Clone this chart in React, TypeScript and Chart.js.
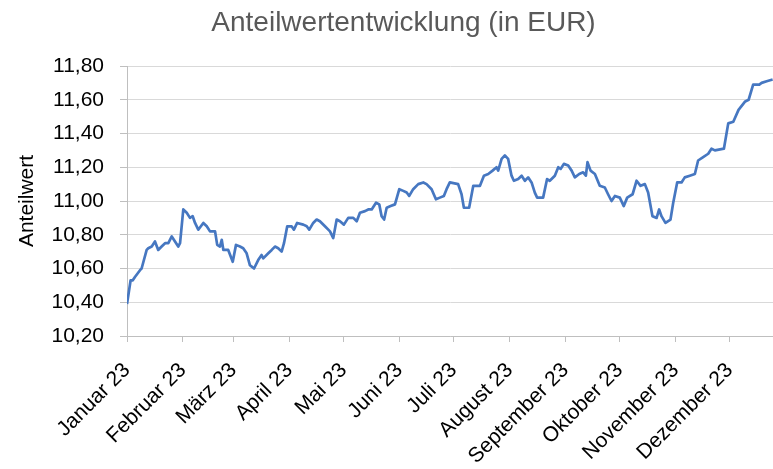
import React, { useEffect, useRef } from "react";
import { Chart, registerables } from "chart.js";

Chart.register(...registerables);

const chartTitle = "Anteilwertentwicklung (in EUR)";
const yAxisTitle = "Anteilwert";

const monthLabels = [
  "Januar 23", "Februar 23", "März 23", "April 23", "Mai 23", "Juni 23",
  "Juli 23", "August 23", "September 23", "Oktober 23", "November 23", "Dezember 23",
];
// day-of-year of each month start (2023)
const monthStarts = [0, 31, 59, 90, 120, 151, 181, 212, 243, 273, 304, 334];

const yTicks = [10.2, 10.4, 10.6, 10.8, 11.0, 11.2, 11.4, 11.6, 11.8];

// day-of-year of each observation
const days = [
  0, 2, 3.2, 4.4, 7.2, 8.1, 10.9, 11.8, 13.7, 15.5,
  17.3, 19.2, 21.1, 22.9, 24.8, 26.6, 28.4, 29.4, 31.2, 33.1,
  34.9, 36.4, 37.7, 39.5, 42.3, 44.2, 46, 48.8, 50, 51.5,
  52.5, 53.4, 56.1, 58.6, 60.4, 62.6, 64.4, 66.3, 68.1, 70.4,
  72.7, 74.6, 75.5, 78.3, 80.2, 82, 83.8, 85.7, 87, 88.8,
  91.2, 92.5, 94.3, 97.7, 99.6, 101, 103.2, 105.1, 106.9, 109.7,
  112.5, 114.3, 116.2, 118, 120.2, 122.6, 125.4, 127.3, 129.1, 131.9,
  133.7, 135.6, 138, 139.8, 141.1, 142.5, 143.9, 146.1, 148.5, 150.9,
  153.1, 155, 156.4, 158.6, 161.4, 164.2, 166, 168.8, 171.2, 173.4,
  175.6, 177.1, 178.9, 183.5, 185.4, 186.7, 189.6, 191.9, 193.7, 195.6,
  197.8, 200.2, 202.6, 204.8, 205.7, 207.6, 209.4, 211.2, 213.1, 214.4,
  216.8, 218.7, 220.5, 222.3, 224.2, 226, 227.3, 230.6, 232.8, 234.3,
  237.1, 239, 240.3, 242.1, 244.5, 246.4, 248.2, 250.6, 252.8, 254.3,
  255.2, 256.9, 259.3, 262, 264.8, 266.6, 268.5, 270.4, 273.1, 275.3,
  277.2, 280.2, 282.4, 284.6, 287, 288.8, 291.2, 293.5, 294.9, 296.2,
  298.4, 301.2, 302.7, 304.9, 307.3, 309.1, 311.9, 314.7, 316.5, 319.3,
  322.1, 323.9, 325.8, 330.8, 333.2, 336, 338.9, 342.6, 344.5, 347,
  350.4, 351.7, 354.5, 357.8,
];

// unit value in EUR
const values = [
  10.39, 10.53, 10.53, 10.55, 10.59, 10.6, 10.71, 10.72, 10.73, 10.76,
  10.71, 10.73, 10.75, 10.75, 10.79, 10.76, 10.73, 10.75, 10.95, 10.93,
  10.9, 10.91, 10.87, 10.83, 10.87, 10.85, 10.82, 10.82, 10.74, 10.73,
  10.77, 10.71, 10.71, 10.64, 10.74, 10.73, 10.72, 10.69, 10.62, 10.6,
  10.65, 10.68, 10.66, 10.69, 10.71, 10.73, 10.72, 10.7, 10.75, 10.85,
  10.85, 10.83, 10.87, 10.86, 10.85, 10.83, 10.87, 10.89, 10.88, 10.85,
  10.82, 10.78, 10.89, 10.88, 10.86, 10.9, 10.9, 10.88, 10.93, 10.94,
  10.95, 10.95, 10.99, 10.98, 10.91, 10.89, 10.96, 10.97, 10.98, 11.07,
  11.06, 11.05, 11.03, 11.07, 11.1, 11.11, 11.1, 11.07, 11.01, 11.02,
  11.03, 11.07, 11.11, 11.1, 11.04, 10.96, 10.96, 11.09, 11.09, 11.09,
  11.15, 11.16, 11.18, 11.2, 11.18, 11.25, 11.27, 11.25, 11.15, 11.12,
  11.13, 11.15, 11.12, 11.14, 11.11, 11.05, 11.02, 11.02, 11.13, 11.12,
  11.15, 11.2, 11.19, 11.22, 11.21, 11.18, 11.14, 11.16, 11.17, 11.15,
  11.23, 11.18, 11.16, 11.09, 11.08, 11.04, 11.0, 11.03, 11.02, 10.97,
  11.02, 11.04, 11.12, 11.09, 11.1, 11.05, 10.91, 10.9, 10.95, 10.91,
  10.87, 10.89, 10.99, 11.11, 11.11, 11.14, 11.15, 11.16, 11.24, 11.26,
  11.28, 11.31, 11.3, 11.31, 11.46, 11.47, 11.54, 11.59, 11.6, 11.69,
  11.69, 11.7, 11.71, 11.72,
];

const FONT = "'Liberation Sans', Arial, Helvetica, sans-serif";

const titlePlugin = {
  id: "customTitle",
  afterDraw(chart: any) {
    const ctx = chart.ctx;
    ctx.save();
    ctx.font = `28px ${FONT}`;
    ctx.fillStyle = "#595959";
    ctx.textAlign = "center";
    ctx.textBaseline = "middle";
    ctx.fillText(chartTitle, 403.5, 23);
    ctx.restore();
  },
};

export default function App() {
  const ref = useRef<HTMLCanvasElement | null>(null);

  useEffect(() => {
    if (!ref.current) return;
    const chart = new Chart(ref.current, {
      type: "line",
      data: {
        datasets: [
          {
            data: days.map((d, i) => ({ x: d, y: values[i] })),
            borderColor: "#4677c1",
            borderWidth: 2.7,
            pointRadius: 0,
            tension: 0,
            fill: false,
            borderJoinStyle: "round",
          },
        ],
      },
      plugins: [titlePlugin],
      options: {
        responsive: false,
        animation: false,
        layout: { padding: { top: 66, left: 0, right: 0, bottom: 0 } },
        plugins: {
          legend: { display: false },
          title: { display: false },
          tooltip: { enabled: false },
        },
        scales: {
          x: {
            type: "linear",
            min: 0,
            max: 358,
            afterBuildTicks: (scale: any) => {
              scale.ticks = monthStarts.map((v) => ({ value: v }));
            },
            afterFit: (scale: any) => {
              scale.height = 133;
            },
            ticks: {
              autoSkip: false,
              minRotation: 45,
              maxRotation: 45,
              padding: 16,
              color: "#000",
              font: { family: FONT, size: 21 },
              callback: (_v: any, i: number) => monthLabels[i],
            },
            grid: {
              drawOnChartArea: false,
              drawTicks: true,
              tickLength: 6,
              color: "#bfbfbf",
            },
            border: { display: true, color: "#bfbfbf" },
          },
          y: {
            min: 10.2,
            max: 11.8,
            afterBuildTicks: (scale: any) => {
              scale.ticks = yTicks.map((v) => ({ value: v }));
            },
            afterFit: (scale: any) => {
              scale.width = 127;
            },
            ticks: {
              padding: 16,
              color: "#000",
              font: { family: FONT, size: 21 },
              callback: (v: any) => Number(v).toFixed(2).replace(".", ","),
            },
            grid: {
              color: "#d9d9d9",
              tickLength: 7,
              tickColor: "#bfbfbf",
            },
            border: { display: true, color: "#bfbfbf" },
            title: {
              display: true,
              text: yAxisTitle,
              color: "#000",
              font: { family: FONT, size: 21 },
              padding: { top: 15, bottom: 0 },
            },
          },
        },
      },
    } as any);
    return () => chart.destroy();
  }, []);

  return (
    <div style={{ position: "fixed", left: 0, top: 0, width: 773, height: 469, background: "#fff" }}>
      <canvas ref={ref} width={773} height={469} />
    </div>
  );
}
